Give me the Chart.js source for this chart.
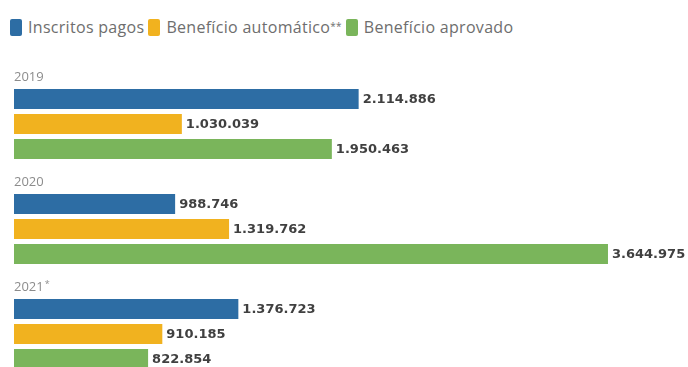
<!DOCTYPE html>
<html>
<head>
<meta charset="utf-8">
<script src="https://cdn.jsdelivr.net/npm/chart.js@4.4.1/dist/chart.umd.min.js"></script>
<style>
  html, body { margin: 0; padding: 0; background: #fff; overflow: hidden; }
  body { width: 688px; height: 367px; position: relative; }
  #legend {
    position: absolute; top: 17px; left: 10px; height: 20px;
    display: flex; align-items: center;
    font-family: "Open Sans", sans-serif; font-size: 16px; letter-spacing: 0.3px; color: #6e6e6e;
    white-space: nowrap;
  }
  #legend .item { display: flex; align-items: center; margin-right: 4px; }
  #legend .box { width: 12px; height: 17px; border-radius: 2px; margin-right: 6px; }
  #legend sup { font-size: 10px; position: relative; top: -1px; vertical-align: top; }
  #wrap { position: absolute; top: 0; left: 0; width: 688px; height: 390px; }
</style>
</head>
<body>
<div id="legend"></div>
<div id="wrap"><canvas id="chart"></canvas></div>
<script>
const years = ["2019", "2020", "2021*"];
const seriesNames = ["Inscritos pagos", "Benefício automático**", "Benefício aprovado"];
const seriesColors = ["#2d6da4", "#f1b21f", "#7ab55b"];
const inscritosPagos = [2114886, 988746, 1376723];
const beneficioAutomatico = [1030039, 1319762, 910185];
const beneficioAprovado = [1950463, 3644975, 822854];

const fmt = (v) => String(v).replace(/\B(?=(\d{3})+(?!\d))/g, ".");

// legend, asterisks drawn small like the original
const legend = document.getElementById("legend");
seriesNames.forEach((name, i) => {
  const item = document.createElement("div");
  item.className = "item";
  const text = name.replace(/(\*+)$/, "<sup>$1</sup>");
  item.innerHTML = '<span class="box" style="background:' + seriesColors[i] + '"></span>' + text;
  legend.appendChild(item);
});

const valueLabels = {
  id: "valueLabels",
  afterDatasetsDraw(chart) {
    const ctx = chart.ctx;
    ctx.save();
    ctx.font = "bold 13px 'DejaVu Sans', sans-serif";
    ctx.fillStyle = "#404040";
    ctx.textBaseline = "middle";
    ctx.textAlign = "left";
    chart.data.datasets.forEach((ds, di) => {
      chart.getDatasetMeta(di).data.forEach((bar, i) => {
        ctx.fillText(fmt(ds.data[i]), bar.x + 4, bar.y + 1);
      });
    });
    ctx.restore();
  },
};

const yearLabels = {
  id: "yearLabels",
  afterDraw(chart) {
    const ctx = chart.ctx;
    const y = chart.scales.y;
    const band = chart.chartArea.height / years.length;
    ctx.save();
    ctx.fillStyle = "#8c8c8c";
    ctx.textBaseline = "middle";
    ctx.textAlign = "left";
    years.forEach((yr, i) => {
      const top = y.getPixelForValue(i) - band / 2;
      const base = yr.replace(/\*+$/, "");
      const star = yr.slice(base.length);
      ctx.font = "13px 'Open Sans', sans-serif";
      ctx.fillText(base, 14, top + 6);
      if (star) {
        const w = ctx.measureText(base).width;
        ctx.font = "9px 'Open Sans', sans-serif";
        ctx.fillText(star, 14 + w + 1, top + 3);
      }
    });
    ctx.restore();
  },
};

new Chart(document.getElementById("chart"), {
  type: "bar",
  data: {
    labels: years,
    datasets: [
      { label: seriesNames[0], data: inscritosPagos, backgroundColor: seriesColors[0] },
      { label: seriesNames[1], data: beneficioAutomatico, backgroundColor: seriesColors[1] },
      { label: seriesNames[2], data: beneficioAprovado, backgroundColor: seriesColors[2] },
    ],
  },
  options: {
    indexAxis: "y",
    responsive: true,
    maintainAspectRatio: false,
    animation: false,
    layout: { padding: { top: 71.5, bottom: 3.5, left: 14, right: 0 } },
    datasets: {
      bar: { categoryPercentage: 75 / 105, barPercentage: 0.8, borderWidth: 0 },
    },
    scales: {
      x: { display: false, min: 0, max: 4136000 },
      y: { display: false },
    },
    plugins: {
      legend: { display: false },
      tooltip: { enabled: false },
    },
  },
  plugins: [valueLabels, yearLabels],
});
</script>
</body>
</html>
